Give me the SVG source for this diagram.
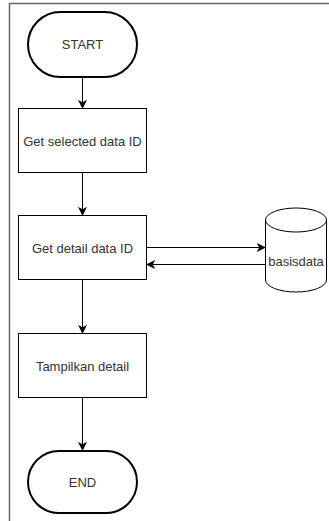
<svg xmlns="http://www.w3.org/2000/svg" width="329" height="521" viewBox="0 0 329 521">
  <defs>
    <marker id="arrow" viewBox="0 0 10 10" refX="9" refY="5" markerWidth="9" markerHeight="9" markerUnits="userSpaceOnUse" orient="auto">
      <path d="M0,0 L10,5 L0,10 L2.5,5 Z" fill="#000"/>
    </marker>
  </defs>
  <style>
    .term { fill: #fff; stroke: #000; stroke-width: 2; }
    .proc { fill: #fff; stroke: #000; stroke-width: 1; }
    .edge { fill: none; stroke: #000; stroke-width: 1; marker-end: url(#arrow); }
    .lbl { font-family: "Liberation Sans", Arial, sans-serif; font-size: 13px; fill: #333; text-anchor: middle; dominant-baseline: central; }
  </style>
  <rect width="329" height="521" fill="#fff"/>
  <!-- frame -->
  <path d="M9.5,521 V3.5 H329" fill="none" stroke="#666" stroke-width="1.5"/>

  <g id="start">
    <rect class="term" x="28" y="12" width="109" height="65" rx="32.5"/>
    <text class="lbl" x="82.5" y="44.5">START</text>
  </g>
  <g id="get-selected">
    <rect class="proc" x="18.5" y="108.5" width="128" height="64"/>
    <text class="lbl" x="82.5" y="141">Get selected data ID</text>
  </g>
  <g id="get-detail">
    <rect class="proc" x="18.5" y="215.5" width="128" height="64"/>
    <text class="lbl" x="82.5" y="248">Get detail data ID</text>
  </g>
  <g id="basisdata">
    <path class="proc" d="M265.5,220 A30.5,12 0 0 1 326.5,220 V280 A30.5,12 0 0 1 265.5,280 Z"/>
    <path d="M265.5,220 A30.5,12 0 0 0 326.5,220" fill="none" stroke="#000" stroke-width="1"/>
    <text class="lbl" x="296" y="261">basisdata</text>
  </g>
  <g id="tampilkan">
    <rect class="proc" x="18.5" y="333.5" width="128" height="64"/>
    <text class="lbl" x="82.5" y="366">Tampilkan detail</text>
  </g>
  <g id="end">
    <rect class="term" x="28" y="451" width="109" height="62" rx="31"/>
    <text class="lbl" x="82.5" y="482">END</text>
  </g>

  <g id="connectors">
    <path class="edge" d="M82.5,77 V108"/>
    <path class="edge" d="M82.5,173 V215"/>
    <path class="edge" d="M146.5,247.5 H265"/>
    <path class="edge" d="M265.5,264.5 H147"/>
    <path class="edge" d="M82.5,280 V333"/>
    <path class="edge" d="M82.5,398 V450"/>
  </g>
</svg>
